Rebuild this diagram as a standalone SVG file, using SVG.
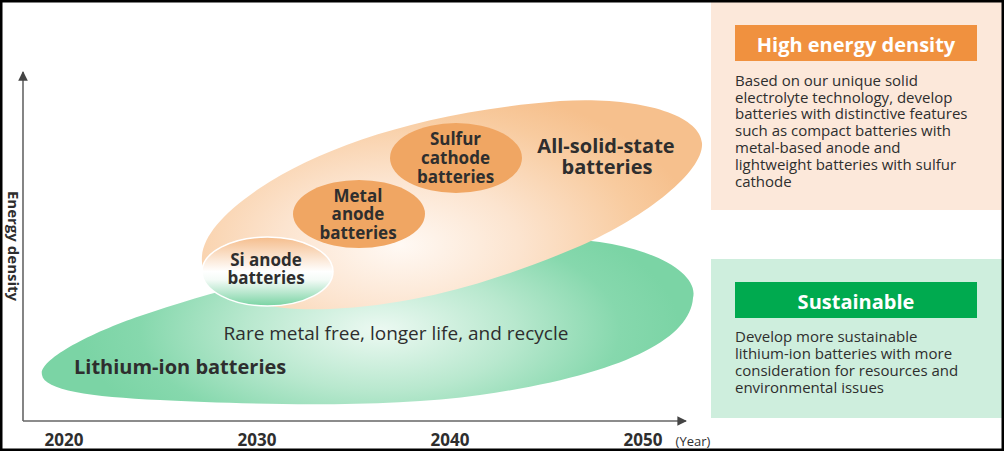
<svg xmlns="http://www.w3.org/2000/svg" width="1004" height="451" viewBox="0 0 1004 451">
  <defs>
    <style>
      .t { font-family: "Open Sans", "Liberation Sans", sans-serif; fill: #2e2e2e; }
      .b { font-weight: bold; }
      .lbl { font-size: 17px; font-weight: bold; text-anchor: middle; }
      .body { font-size: 15px; }
      .hdr { font-size: 20px; font-weight: bold; fill: #ffffff; text-anchor: middle; }
      .yr { font-size: 17px; font-weight: bold; text-anchor: middle; }
      .axis { stroke: #666666; stroke-width: 1.6; fill: none; }
      .sub { fill: #f0a663; }
    </style>
    <radialGradient id="gGreen" gradientUnits="userSpaceOnUse" cx="380" cy="330" r="300" gradientTransform="translate(380 330) scale(1 0.45) translate(-380 -330)">
      <stop offset="0" stop-color="#ecf9f2"/>
      <stop offset="0.45" stop-color="#b8e8ce"/>
      <stop offset="0.8" stop-color="#86d8ad"/>
      <stop offset="1" stop-color="#7bd4a5"/>
    </radialGradient>
    <radialGradient id="gOrange" gradientUnits="userSpaceOnUse" cx="400" cy="245" r="300" gradientTransform="translate(400 245) scale(1 0.55) translate(-400 -245)">
      <stop offset="0" stop-color="#fff9f4"/>
      <stop offset="0.4" stop-color="#fce4cf"/>
      <stop offset="0.8" stop-color="#f8cb9f"/>
      <stop offset="1" stop-color="#f6c08d"/>
    </radialGradient>
    <linearGradient id="gSi" x1="0" y1="0" x2="0" y2="1">
      <stop offset="0" stop-color="#f5bd8c"/>
      <stop offset="0.5" stop-color="#ffffff"/>
      <stop offset="0.62" stop-color="#f4fbf7"/>
      <stop offset="1" stop-color="#79d3a3"/>
    </linearGradient>
    <marker id="arr" viewBox="0 0 10 10" refX="9" refY="5" markerWidth="6" markerHeight="6" markerUnits="strokeWidth" orient="auto">
      <path d="M0,0 L10,5 L0,10 Z" fill="#444444"/>
    </marker>
  </defs>

  <rect x="0" y="0" width="1004" height="451" fill="#ffffff"/>

  <g id="lithium-ion">
    <path d="M42,375 C38,360 90,333 140,316 C250,278 420,240 560,239 C640,240 700,270 693,298 C690,340 620,375 480,395 C380,409 240,404 160,400 C90,397 44,390 42,375 Z" fill="url(#gGreen)"/>
    <text class="t" x="396" y="340" font-size="19" text-anchor="middle">Rare metal free, longer life, and recycle</text>
    <text class="t b" x="74" y="374" font-size="20">Lithium-ion batteries</text>
  </g>

  <g id="all-solid-state">
    <path d="M202,262 C200,240 220,215 260,188 C320,148 420,112 560,101 C640,96 700,115 702,143 C704,170 650,215 580,246 C500,280 420,305 330,309 C260,312 204,295 202,262 Z" fill="url(#gOrange)"/>
    <text class="t b" x="606" y="153" font-size="20" text-anchor="middle">All-solid-state</text>
    <text class="t b" x="607" y="174" font-size="20" text-anchor="middle">batteries</text>
  </g>

  <g id="si-anode">
    <ellipse cx="267.5" cy="271.5" rx="65.5" ry="34.5" fill="url(#gSi)" stroke="#ffffff" stroke-width="1.5"/>
    <text class="t lbl" x="266" y="266">Si anode</text>
    <text class="t lbl" x="266" y="284">batteries</text>
  </g>

  <g id="metal-anode">
    <ellipse class="sub" cx="359" cy="214" rx="66" ry="34"/>
    <text class="t lbl" x="358" y="202">Metal</text>
    <text class="t lbl" x="358" y="220">anode</text>
    <text class="t lbl" x="358" y="239">batteries</text>
  </g>

  <g id="sulfur-cathode">
    <ellipse class="sub" cx="456" cy="158" rx="66" ry="35"/>
    <text class="t lbl" x="455.5" y="145">Sulfur</text>
    <text class="t lbl" x="455.5" y="164">cathode</text>
    <text class="t lbl" x="455.5" y="183">batteries</text>
  </g>

  <g id="axes">
    <line class="axis" x1="23" y1="421" x2="23" y2="72" marker-end="url(#arr)"/>
    <line class="axis" x1="23" y1="421" x2="686" y2="421" marker-end="url(#arr)"/>
  </g>

  <g id="axis-labels">
    <text class="t b" transform="translate(7.5 246) rotate(90)" font-size="15" text-anchor="middle">Energy density</text>
    <text class="t yr" x="64" y="446">2020</text>
    <text class="t yr" x="257" y="446">2030</text>
    <text class="t yr" x="450" y="446">2040</text>
    <text class="t yr" x="643" y="446">2050</text>
    <text class="t" x="693" y="446" font-size="13" text-anchor="middle">(Year)</text>
  </g>

  <g id="panel-high-energy">
    <rect x="711" y="0" width="293" height="210" fill="#fce8da"/>
    <rect x="735" y="25" width="242" height="36" fill="#f0913f"/>
    <text class="t hdr" x="856" y="51.5">High energy density</text>
    <text class="t body" x="735" y="85.7">Based on our unique solid</text>
    <text class="t body" x="735" y="102.5">electrolyte technology, develop</text>
    <text class="t body" x="735" y="119.3">batteries with distinctive features</text>
    <text class="t body" x="735" y="136.1">such as compact batteries with</text>
    <text class="t body" x="735" y="152.9">metal-based anode and</text>
    <text class="t body" x="735" y="169.7">lightweight batteries with sulfur</text>
    <text class="t body" x="735" y="186.5">cathode</text>
  </g>

  <g id="panel-sustainable">
    <rect x="711" y="259" width="293" height="159" fill="#ceeedd"/>
    <rect x="735" y="282" width="242" height="36" fill="#00aa4f"/>
    <text class="t hdr" x="856" y="309">Sustainable</text>
    <text class="t body" x="735" y="341.7">Develop more sustainable</text>
    <text class="t body" x="735" y="359">lithium-ion batteries with more</text>
    <text class="t body" x="735" y="376">consideration for resources and</text>
    <text class="t body" x="735" y="393.3">environmental issues</text>
  </g>

  <rect x="0" y="0" width="1004" height="451" fill="none" stroke="#000000" stroke-width="5"/>
</svg>
